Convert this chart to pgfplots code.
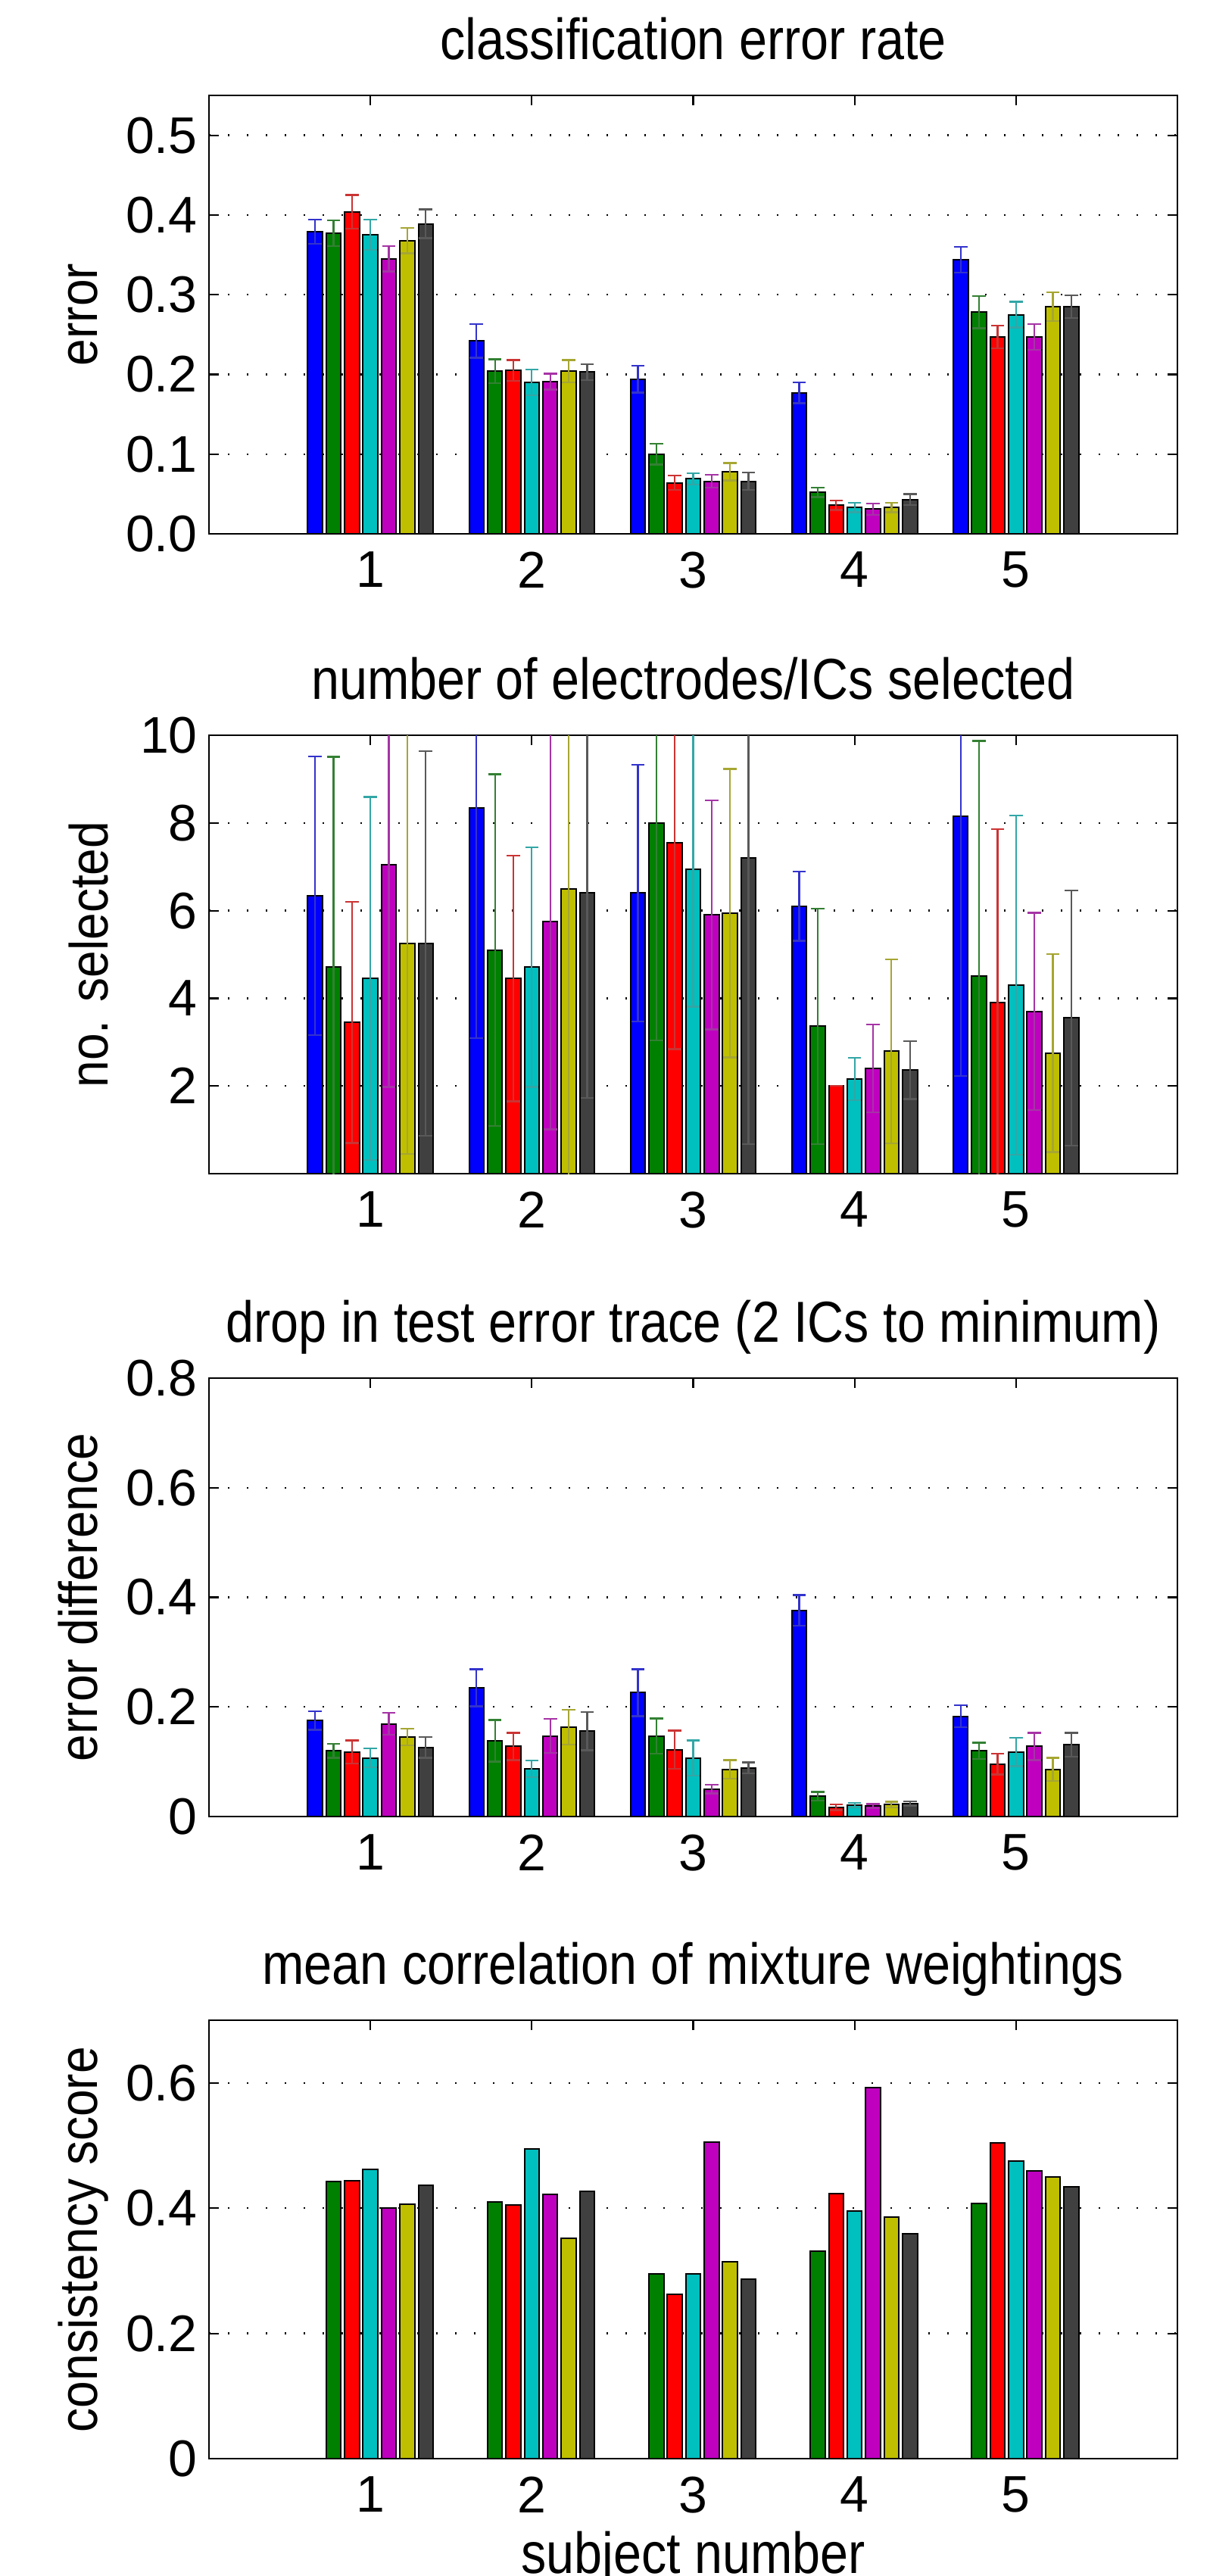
\documentclass[border=0pt]{standalone}
\usepackage{pgfplots}
\pgfplotsset{compat=1.18}
\usepackage{pgfplotstable}
\usepackage{fontspec}
\setmainfont{Liberation Sans}
\newfontfamily\tfont{Liberation Sans}[FakeStretch=0.87]
\newfontfamily\lfont{Liberation Sans}[FakeStretch=0.9]

\definecolor{mb}{rgb}{0,0,1}
\definecolor{mg}{rgb}{0,0.5,0}
\definecolor{mr}{rgb}{1,0,0}
\definecolor{mc}{rgb}{0,0.75,0.75}
\definecolor{mm}{rgb}{0.75,0,0.75}
\definecolor{my}{rgb}{0.75,0.75,0}
\definecolor{mk}{rgb}{0.25,0.25,0.25}

% classification error rate
\pgfplotstableread{
x b be g ge r re c ce m me y ye k ke
1 0.379 0.015 0.377 0.016 0.404 0.021 0.375 0.019 0.345 0.016 0.368 0.016 0.389 0.018
2 0.242 0.021 0.204 0.015 0.205 0.013 0.190 0.016 0.191 0.010 0.204 0.014 0.203 0.010
3 0.194 0.017 0.100 0.013 0.064 0.009 0.069 0.007 0.066 0.008 0.078 0.011 0.066 0.011
4 0.177 0.013 0.052 0.006 0.036 0.006 0.033 0.006 0.031 0.007 0.033 0.006 0.043 0.007
5 0.344 0.016 0.278 0.020 0.247 0.014 0.275 0.016 0.247 0.016 0.285 0.018 0.285 0.014
}\tabA

% number of electrodes/ICs selected
\pgfplotstableread{
x b be g ge r re c ce m me y ye k ke
1 6.34 3.18 4.71 4.80 3.45 2.75 4.45 4.14 7.05 5.07 5.25 4.80 5.25 4.39
2 8.35 5.26 5.10 4.01 4.45 2.80 4.71 2.73 5.75 4.74 6.50 7.00 6.40 4.67
3 6.40 2.93 8.00 4.96 7.54 4.70 6.95 3.14 5.90 2.61 5.94 3.29 7.21 6.54
4 6.10 0.79 3.36 2.69 2.00 0.00 2.16 0.48 2.40 1.00 2.79 2.10 2.36 0.66
5 8.15 5.92 4.50 5.37 3.90 3.96 4.30 3.87 3.70 2.25 2.75 2.26 3.55 2.91
}\tabB

% drop in test error trace
\pgfplotstableread{
x b be g ge r re c ce m me y ye k ke
1 0.175 0.017 0.120 0.013 0.118 0.021 0.107 0.017 0.169 0.020 0.145 0.015 0.126 0.019
2 0.235 0.034 0.138 0.038 0.128 0.025 0.087 0.015 0.147 0.031 0.163 0.032 0.156 0.035
3 0.226 0.043 0.147 0.032 0.122 0.035 0.107 0.032 0.050 0.008 0.086 0.017 0.089 0.010
4 0.376 0.028 0.037 0.008 0.017 0.005 0.021 0.004 0.019 0.004 0.022 0.005 0.024 0.004
5 0.183 0.020 0.120 0.015 0.096 0.019 0.118 0.026 0.128 0.025 0.086 0.021 0.131 0.022
}\tabC

% mean correlation of mixture weightings
\pgfplotstableread{
x g r c m y k
1 0.442 0.444 0.462 0.400 0.406 0.436
2 0.410 0.405 0.495 0.422 0.352 0.427
3 0.295 0.263 0.295 0.506 0.314 0.286
4 0.331 0.423 0.395 0.593 0.386 0.359
5 0.407 0.504 0.475 0.459 0.450 0.434
}\tabD

\pgfplotsset{
  panel/.style={
    scale only axis, width=319.75pt, height=144.75pt,
    xmin=0, xmax=6, xtick={1,2,3,4,5},
    tick align=inside, tick pos=both,
    major tick length=3.2pt,
    axis line style={line width=0.65pt, black},
    every tick/.style={black, line width=0.55pt},
    ymajorgrids,
    major grid style={black, line width=0.6pt, dash pattern=on 0.6pt off 5.65pt},
    /pgf/number format/assume math mode=true,
    tick label style={font=\fontsize{17}{19}\selectfont},
    xticklabel style={yshift=-2.4pt},
    yticklabel style={xshift=-0.3pt},
    title style={font=\tfont\fontsize{19.1}{22}\selectfont, at={(axis description cs:0.5,1)}, anchor=base, yshift=6pt},
    ylabel style={font=\lfont\fontsize{17.8}{20}\selectfont, at={(axis description cs:-0.1157,0.5)}, anchor=base, rotate=0},
    xlabel style={font=\tfont\fontsize{19.1}{22}\selectfont, at={(axis description cs:0.5,-0.262)}, anchor=base},
  }
}

\newcommand{\eb}[5]{%
  \addplot[ybar, bar width=0.0914, bar shift=0pt, fill=#4, draw=black, line width=0.5pt,
    error bars/.cd, y dir=both, y explicit, error mark=-,
    error bar style={line width=0.55pt, #4!60!gray},
    error mark options={rotate=90, line width=0.6pt, #4!60!gray, mark size=2.2pt}]
    table[x expr=\thisrow{x}+(#5), y=#2, y error=#3] {#1};
}
\newcommand{\nb}[4]{%
  \addplot[ybar, bar width=0.0914, bar shift=0pt, fill=#3, draw=black, line width=0.5pt]
    table[x expr=\thisrow{x}+(#4), y=#2] {#1};
}

\begin{document}
\begin{tikzpicture}
\useasboundingbox (0,0) rectangle (400.5pt,-850.5pt);

% Panel 1
\begin{axis}[panel, at={(69pt,-176.25pt)}, anchor=south west,
  ymin=0, ymax=0.55, ytick={0,0.1,0.2,0.3,0.4,0.5},
  yticklabel style={/pgf/number format/.cd, fixed, fixed zerofill, precision=1},
  title={classification error rate}, ylabel={error}]
\eb{\tabA}{b}{be}{mb}{-0.34286}
\eb{\tabA}{g}{ge}{mg}{-0.22857}
\eb{\tabA}{r}{re}{mr}{-0.11429}
\eb{\tabA}{c}{ce}{mc}{0}
\eb{\tabA}{m}{me}{mm}{0.11429}
\eb{\tabA}{y}{ye}{my}{0.22857}
\eb{\tabA}{k}{ke}{mk}{0.34286}
\end{axis}

% Panel 2
\begin{axis}[panel, at={(69pt,-387.5pt)}, anchor=south west,
  ymin=0, ymax=10, ytick={2,4,6,8,10},
  title={number of electrodes/ICs selected}, ylabel={no. selected},
  ylabel style={at={(axis description cs:-0.104,0.5)}}]
\eb{\tabB}{b}{be}{mb}{-0.34286}
\eb{\tabB}{g}{ge}{mg}{-0.22857}
\eb{\tabB}{r}{re}{mr}{-0.11429}
\eb{\tabB}{c}{ce}{mc}{0}
\eb{\tabB}{m}{me}{mm}{0.11429}
\eb{\tabB}{y}{ye}{my}{0.22857}
\eb{\tabB}{k}{ke}{mk}{0.34286}
\end{axis}

% Panel 3
\begin{axis}[panel, at={(69pt,-599.75pt)}, anchor=south west,
  ymin=0, ymax=0.8, ytick={0,0.2,0.4,0.6,0.8},
  title={drop in test error trace (2 ICs to minimum)}, ylabel={error difference}]
\eb{\tabC}{b}{be}{mb}{-0.34286}
\eb{\tabC}{g}{ge}{mg}{-0.22857}
\eb{\tabC}{r}{re}{mr}{-0.11429}
\eb{\tabC}{c}{ce}{mc}{0}
\eb{\tabC}{m}{me}{mm}{0.11429}
\eb{\tabC}{y}{ye}{my}{0.22857}
\eb{\tabC}{k}{ke}{mk}{0.34286}
\end{axis}

% Panel 4
\begin{axis}[panel, at={(69pt,-811.75pt)}, anchor=south west,
  ymin=0, ymax=0.7, ytick={0,0.2,0.4,0.6},
  title={mean correlation of mixture weightings}, ylabel={consistency score},
  xlabel={subject number}]
\nb{\tabD}{g}{mg}{-0.22857}
\nb{\tabD}{r}{mr}{-0.11429}
\nb{\tabD}{c}{mc}{0}
\nb{\tabD}{m}{mm}{0.11429}
\nb{\tabD}{y}{my}{0.22857}
\nb{\tabD}{k}{mk}{0.34286}
\end{axis}
\end{tikzpicture}
\end{document}
